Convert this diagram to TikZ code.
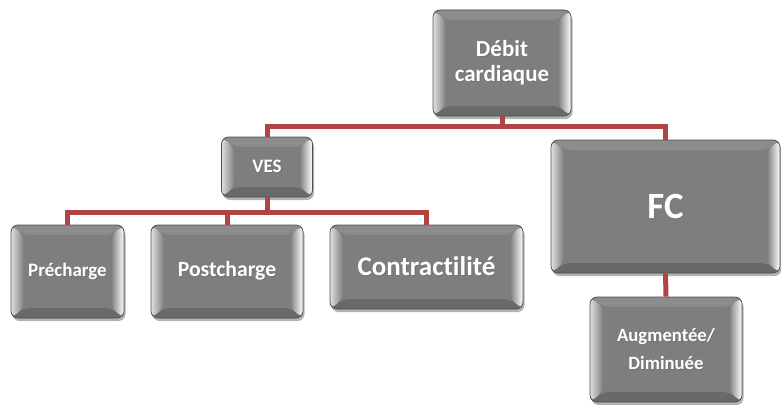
\documentclass[tikz,border=0pt]{standalone}
\usepackage{fontspec}
\setmainfont{Carlito}[Ligatures=NoCommon]
\usetikzlibrary{shadows,calc}

\definecolor{facegray}{HTML}{7E7E7E}
\definecolor{topgray}{HTML}{8C8C8C}
\definecolor{botgray}{HTML}{696969}
\definecolor{edgegray}{HTML}{4E4E4E}
\definecolor{linkred}{HTML}{B04444}

% white label with a soft dark offset behind it
\newcommand\shd[1]{\leavevmode\rlap{\kern0.9pt\raisebox{-0.9pt}{\textcolor{black!55}{#1}}}#1}

\tikzset{
  bevelbox/.style={
    rounded corners=7pt, draw=edgegray, line width=0.7pt, fill=facegray,
    text=white, font=\bfseries, align=center, inner sep=2pt,
    drop shadow={shadow xshift=1.5pt, shadow yshift=-3pt, opacity=0.3, fill=black},
    path picture={
      \coordinate (bvSW) at (path picture bounding box.south west);
      \coordinate (bvNE) at (path picture bounding box.north east);
      \coordinate (bvNW) at (bvSW |- bvNE);
      \coordinate (bvSE) at (bvNE |- bvSW);
      % top and bottom bevels
      \fill[topgray] (bvNW) -- (bvNE) -- ($(bvNE)+(-13pt,-10pt)$) -- ($(bvNW)+(13pt,-10pt)$) -- cycle;
      \fill[botgray] (bvSW) -- (bvSE) -- ($(bvSE)+(-13pt,10pt)$) -- ($(bvSW)+(13pt,10pt)$) -- cycle;
      % side bevels catch the light
      \shade[left color=gray!25, right color=facegray] (bvSW) -- (bvNW) -- ($(bvNW)+(13pt,-10pt)$) -- ($(bvSW)+(13pt,10pt)$) -- cycle;
      \shade[left color=facegray, right color=white] (bvSE) -- (bvNE) -- ($(bvNE)+(-13pt,-10pt)$) -- ($(bvSE)+(-13pt,10pt)$) -- cycle;
    }
  },
  link/.style={draw=linkred, line width=5pt}
}

\begin{document}
\begin{tikzpicture}[x=1pt, y=-1pt]
\useasboundingbox (0,0) rectangle (781,404);

% junctions of the tree connectors
\coordinate (jTop) at (502,126);
\coordinate (jVes) at (267,212);

% boxes
\node[bevelbox, minimum width=138pt, minimum height=106pt,
      font=\bfseries\fontsize{23}{25}\selectfont] (debit) at (502,63) {\shd{Débit}\\\shd{cardiaque}};
\node[bevelbox, minimum width=91pt, minimum height=60pt,
      font=\bfseries\fontsize{19}{21}\selectfont] (ves) at (267,167) {\shd{VES}};
\node[bevelbox, minimum width=229pt, minimum height=133pt,
      font=\bfseries\fontsize{37}{40}\selectfont] (fc) at (665.5,206.5) {\shd{FC}};
\node[bevelbox, minimum width=113pt, minimum height=93pt,
      font=\bfseries\fontsize{19}{21}\selectfont] (pre) at (67.5,271.5) {\shd{Précharge}};
\node[bevelbox, minimum width=152pt, minimum height=93pt,
      font=\bfseries\fontsize{21.7}{23}\selectfont] (post) at (227,271.5) {\shd{Postcharge}};
\node[bevelbox, minimum width=193pt, minimum height=84pt,
      font=\bfseries\fontsize{27}{29}\selectfont] (contr) at (426.5,267) {\shd{Contractilité}};
\node[bevelbox, minimum width=152pt, minimum height=105pt,
      font=\bfseries\fontsize{18.7}{28}\selectfont] (aug) at (666,349.5) {\shd{Augmentée/}\\\shd{Diminuée}};

% tree connectors
\draw[link] (debit.south) -- (jTop);
\draw[link] (jTop) -| (ves.north);
\draw[link] (jTop) -| (fc.north);
\draw[link] (ves.south) -- (jVes);
\draw[link] (jVes) -| (pre.north);
\draw[link] (jVes) -| (post.north);
\draw[link] (jVes) -| (contr.north);
\draw[link] (fc.south) -- (aug.north);
\end{tikzpicture}
\end{document}
